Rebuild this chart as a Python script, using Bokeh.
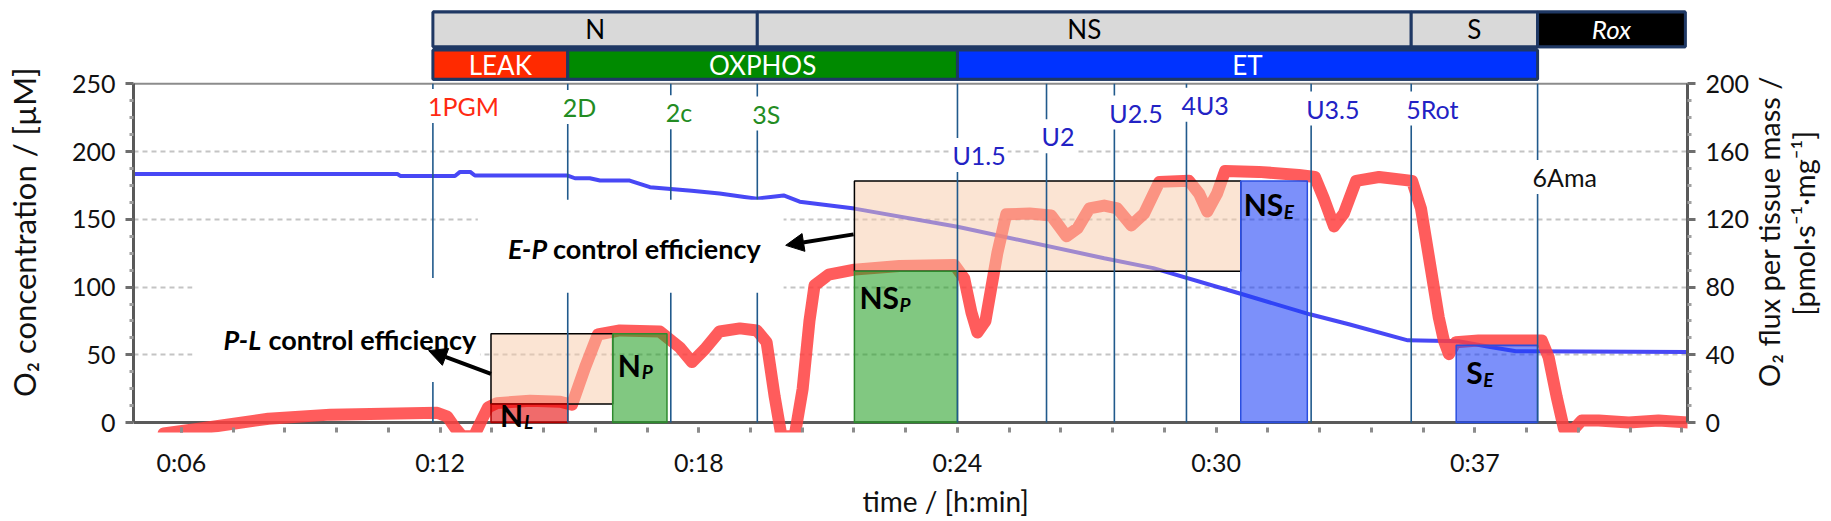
import math
import numpy as np
from bokeh.plotting import figure
from bokeh.layouts import row
from bokeh.models import (Range1d, LinearAxis, FixedTicker, Span, Label, Arrow,
                          NormalHead, ColumnDataSource, Title)
from bokeh.core.properties import value
from bokeh.embed import file_html
from bokeh.resources import INLINE

FONT = "Lato"

# ---------------- data ----------------
# time in minutes; red = O2 flux per tissue mass (right axis), blue = O2 concentration (left axis)
red_t = [5.68, 6.55, 8.15, 9.61, 11.19, 12.13, 12.37, 12.55, 12.72, 13.00,
         13.19, 13.33, 13.54, 14.32, 15.03, 15.31, 15.62, 15.92, 16.44, 17.38,
         17.85, 18.14, 18.44, 18.79, 19.27, 19.67, 19.90, 20.09, 20.25, 20.56,
         20.75, 20.91, 21.03, 21.36, 21.97, 23.03, 24.33, 24.56, 24.73, 24.87,
         25.06, 25.34, 25.55, 26.10, 26.61, 26.80, 26.97, 27.23, 27.51, 27.86,
         28.17, 28.50, 28.80, 29.16, 29.86, 30.10, 30.29, 30.52, 30.71, 31.51,
         32.45, 32.83, 33.04, 33.28, 33.51, 33.80, 34.34, 35.12, 35.33, 35.56,
         35.75, 35.87, 35.99, 36.15, 36.69, 37.64, 38.18, 38.34, 38.53, 38.70,
         38.93, 39.12, 39.52, 40.23, 40.93, 41.64]
red_flux = [-6.4, -3.5, 2.3, 4.7, 5.3, 5.8, 3.5, -3.0, -8.0, -8.0,
            2.0, 9.0, 11.5, 12.9, 12.3, 10.5, 32.7, 52.0, 54.4, 53.8,
            44.4, 35.7, 43.3, 53.8, 55.6, 54.4, 47.4, 15.2, -8.0, -8.0,
            20.0, 60.0, 81.0, 87.3, 90.3, 92.5, 93.0, 85.0, 65.0, 53.2,
            60.0, 100.0, 123.0, 123.4, 122.2, 115.8, 110.0, 114.6, 126.4, 128.1,
            126.4, 116.4, 123.4, 142.1, 142.7, 135.1, 124.6, 135.1, 148.5, 148.0,
            146.2, 145.0, 132.2, 115.8, 123.4, 142.7, 145.0, 142.7, 126.4, 91.2,
            62.0, 48.5, 40.4, 47.4, 48.5, 48.5, 48.5, 38.6, 15.2, -3.5,
            -4.0, 1.2, 1.2, 0.0, 1.2, 0.0]

blue_t = [4.97, 11.19, 11.26, 12.55, 12.67, 12.91, 13.02, 15.21, 15.38, 15.73,
          15.97, 16.67, 17.15, 18.13, 18.79, 19.67, 20.30, 20.68, 21.97, 24.40,
          27.86, 29.02, 31.14, 32.71, 33.63, 35.02, 36.22, 36.93, 37.57, 41.62]
blue_conc = [183.5, 183.5, 182.0, 182.0, 185.0, 185.0, 182.3, 182.3, 180.3, 180.3,
             178.6, 178.6, 173.7, 171.0, 169.0, 165.2, 167.6, 163.0, 157.9, 144.5,
             121.3, 114.0, 94.5, 79.9, 72.6, 60.7, 60.0, 56.0, 52.6, 52.0]

event_names = ["1PGM", "2D", "2c", "3S", "U1.5", "U2", "U2.5", "4U3", "U3.5", "5Rot", "6Ama"]
event_t = [12.03, 15.21, 17.64, 19.68, 24.40, 26.50, 28.10, 29.80, 32.74, 35.10, 38.08]
event_kind = ["red", "green", "green", "green", "blue", "blue", "blue", "blue", "blue", "blue", "black"]

coupling_names = ["N", "NS", "S", "Rox"]
coupling_from = ["1PGM", "3S", "5Rot", "6Ama"]
state_names = ["LEAK", "OXPHOS", "ET"]
state_from = ["1PGM", "2D", "U1.5", "6Ama"]

level_main = ["N", "N", "NS", "NS", "S"]
level_sub = ["L", "P", "P", "E", "E"]
level_kind = ["red", "green", "green", "blue", "blue"]
level_start = [13.40, 16.27, 21.97, 31.08, 36.16]
level_end = [15.21, 17.55, 24.40, 32.65, 38.08]
level_flux = [11.0, 52.5, 89.4, 142.6, 45.6]

eff_prefix = ["P-L", "E-P"]
eff_from = [0, 2]   # lower level index
eff_to = [1, 3]     # upper level index

tick_pos = [6.1, 12.2, 18.3, 24.4, 30.5, 36.6]
tick_labels = ["0:06", "0:12", "0:18", "0:24", "0:30", "0:37"]
conc_ticks = [0, 50, 100, 150, 200, 250]
flux_ticks = [0, 40, 80, 120, 160, 200]

x_title = "time / [h:min]"
left_title = "O₂ concentration / [µM]"
right_title = ["O₂ flux per tissue mass /", "[pmol·s⁻¹·mg⁻¹]"]

# ---------------- layout / style ----------------
H = 521
LEFT_W, RIGHT_W = 44, 79
MAIN_W = 1831 - LEFT_W - RIGHT_W
X0, X1 = 4.97, 41.615
Y0, Y1 = -7.31, 305.56
K = 0.8                      # flux units per concentration unit (200 <-> 250)
NAVY = "#1F3864"
HEAD_BG = (252.2, 304.1, 276.3)   # bottom (both rows), top, bottom (Rox row)
ROW1 = (277.4, 303.0)
ROW2 = (253.3, 274.9)
KIND_TEXT = {"red": "#FF2A12", "green": "#238C23", "blue": "#2222C4", "black": "#111111"}
KIND_FILL = {"red": "#E60000", "green": "#26A026", "blue": "#1E3FF7"}
KIND_LINE = {"red": "#B00000", "green": "#2E8B2E", "blue": "#2B4FE0"}
event_label_y = [233.6, 232.8, 229.0, 228.0, 197.4, 211.3, 228.8, 234.6, 231.7, 231.7, 181.3]
label_dx = [9, 5, 5, 3, 10]
label_dy = [11, 31, 26, 23, 27]
main_w = {"N": 24, "NS": 40, "S": 17}
eff_text_t = [7.09, 13.80]
eff_text_y = [61.6, 128.7]
eff_mask = [(6.36, 13.14, 30.0, 106.7), (13.09, 20.30, 95.8, 164.5)]
arrow_tail = [(13.40, 36.0), (21.95, 138.9)]
arrow_head = [(11.93, 53.1), (20.35, 130.8)]
TEXT_DARK = "#111111"
LEFT_TITLE_POS = (23, H - 275)
RIGHT_TITLE_X = [16, 51]
RIGHT_TITLE_Y = [H - 274, H - 264]

p = figure(width=MAIN_W, height=H, x_range=Range1d(X0, X1), y_range=Range1d(Y0, Y1),
           output_backend="svg", toolbar_location=None,
           min_border_left=89, min_border_right=63, min_border_top=8, min_border_bottom=85)
p.outline_line_color = None
p.background_fill_color = "white"
p.border_fill_color = "white"
p.extra_y_ranges = {"flux": Range1d(Y0 * K, Y1 * K)}

# grid
p.xgrid.visible = False
p.ygrid.ticker = FixedTicker(ticks=[50, 100, 150, 200])
p.ygrid.grid_line_color = "#C4C4C4"
p.ygrid.grid_line_dash = "5 4"
p.ygrid.grid_line_width = 2

# axes
xa = p.xaxis[0]
xa.ticker = FixedTicker(ticks=tick_pos,
                        minor_ticks=[round(6.1 + 1.22 * k, 3) for k in range(-1, 30)])
xa.major_label_overrides = dict(zip(tick_pos, tick_labels))
xa.axis_line_color = None
for a in ("major", "minor"):
    setattr(xa, a + "_tick_in", 5)
    setattr(xa, a + "_tick_out", 0)
    setattr(xa, a + "_tick_line_width", 3)
    setattr(xa, a + "_tick_line_color", "#8C8C8C")
xa.major_label_standoff = 14

yl = p.yaxis[0]
yl.ticker = FixedTicker(ticks=conc_ticks, minor_ticks=[v for v in np.arange(0, 251, 12.5) if v % 50])
yl.bounds = (0, 250)

yr = LinearAxis(y_range_name="flux",
                ticker=FixedTicker(ticks=flux_ticks, minor_ticks=[v for v in range(0, 201, 10) if v % 40]),
                bounds=(0, 200))
p.add_layout(yr, "right")

for ax in (yl, yr):
    ax.axis_line_width = 3
    ax.axis_line_color = "#595959"
    ax.major_tick_out = 8
    ax.major_tick_in = 0
    ax.major_tick_line_width = 3
    ax.major_tick_line_color = "#6E6E6E"
    ax.minor_tick_out = 4
    ax.minor_tick_in = 0
    ax.minor_tick_line_width = 3
    ax.minor_tick_line_color = "#A0A0A0"
    ax.major_label_standoff = 10
for ax in (xa, yl, yr):
    ax.major_label_text_font = FONT
    ax.major_label_text_font_size = "25px"
    ax.major_label_text_color = TEXT_DARK

# x-axis title (placed under the tick labels, shifted like in the reference)
p.add_layout(Title(text=x_title, align="left", offset=729, standoff=6, vertical_align="middle",
                   text_font=FONT, text_font_size="28px", text_font_style="normal",
                   text_color=TEXT_DARK), "below")

# zero line and top border of the plotting area
p.add_layout(Span(location=0, dimension="width", line_color="#5A5A5A", line_width=3, level="underlay"))
p.add_layout(Span(location=250, dimension="width", line_color="#8C8C8C", line_width=2, level="underlay"))

# traces
p.line(blue_t, blue_conc, line_color="#3434F4", line_width=4, line_alpha=0.9)
p.line(red_t, red_flux, y_range_name="flux", line_color="#FF4040", line_alpha=0.85,
       line_width=12, line_join="round", line_cap="round")

# control-efficiency boxes (from lower to upper level)
p.quad(left=[level_start[a] for a in eff_from], right=[level_start[b] for b in eff_to],
       bottom=[level_flux[a] for a in eff_from], top=[level_flux[b] for b in eff_to],
       y_range_name="flux", fill_color="#F8C9A8", fill_alpha=0.5,
       line_color="black", line_width=1.5)

# respiratory-state level boxes
p.quad(left=level_start, right=level_end, bottom=0, top=level_flux, y_range_name="flux",
       fill_color=[KIND_FILL[k] for k in level_kind], fill_alpha=0.58,
       line_color=[KIND_LINE[k] for k in level_kind], line_width=1.5)

# titration event lines
p.segment(x0=event_t, y0=0, x1=event_t, y1=250, line_color="#215A8C", line_width=1.6)

# white areas behind the efficiency texts
p.quad(left=[m[0] for m in eff_mask], right=[m[1] for m in eff_mask],
       bottom=[m[2] for m in eff_mask], top=[m[3] for m in eff_mask],
       fill_color="white", line_color=None)

# header: coupling-control and respiratory-state bars
ev = dict(zip(event_names, event_t))
top_edges = [ev[e] for e in coupling_from] + [X1 - 0.05]
st_edges = [ev[e] for e in state_from]
p.quad(left=[st_edges[0], st_edges[-1]], right=[st_edges[-1], top_edges[-1]],
       bottom=[HEAD_BG[0], HEAD_BG[2]], top=[HEAD_BG[1], HEAD_BG[1]],
       fill_color=NAVY, line_color=None)
p.quad(left=top_edges[:-1], right=top_edges[1:], bottom=ROW1[0], top=ROW1[1],
       fill_color=["#D9D9D9", "#D9D9D9", "#D9D9D9", "#000000"], line_color=NAVY, line_width=3)
p.quad(left=st_edges[:-1], right=st_edges[1:], bottom=ROW2[0], top=ROW2[1],
       fill_color=["#FF2A00", "#008A00", "#0033FF"], line_color=NAVY, line_width=3)
mid_top = [(a + b) / 2 for a, b in zip(top_edges[:-1], top_edges[1:])]
mid_st = [(a + b) / 2 for a, b in zip(st_edges[:-1], st_edges[1:])]
ymid1 = sum(ROW1) / 2
ymid2 = sum(ROW2) / 2
p.text(x=mid_top[:3], y=[ymid1] * 3, text=coupling_names[:3], text_font=value(FONT),
       text_font_size="26px", text_color="black", text_align="center", text_baseline="middle")
p.text(x=mid_top[3:], y=[ymid1], text=coupling_names[3:], text_font=value(FONT),
       text_font_size="26px", text_font_style="italic", text_color="white",
       text_align="center", text_baseline="middle")
p.text(x=mid_st, y=[ymid2] * 3, text=state_names, text_font=value(FONT),
       text_font_size="26px", text_color="white", text_align="center", text_baseline="middle")

# level labels with subscripts
src_main = ColumnDataSource(dict(x=level_start, y=level_flux, text=level_main,
                                 xo=label_dx, yo=label_dy))
src_sub = ColumnDataSource(dict(x=level_start, y=level_flux, text=level_sub,
                                xo=[d + main_w[m] for d, m in zip(label_dx, level_main)],
                                yo=[d + 7 for d in label_dy]))
p.text(x="x", y="y", text="text", x_offset="xo", y_offset="yo", source=src_main,
       y_range_name="flux", text_font=value(FONT), text_font_size="30px",
       text_font_style="bold", text_color="black", text_align="left", text_baseline="middle")
p.text(x="x", y="y", text="text", x_offset="xo", y_offset="yo", source=src_sub,
       y_range_name="flux", text_font=value(FONT), text_font_size="19px",
       text_font_style="bold italic", text_color="black", text_align="left", text_baseline="middle")

# control-efficiency texts
p.text(x=eff_text_t, y=eff_text_y, text=eff_prefix, text_font=value(FONT), text_font_size="27px",
       text_font_style="bold italic", text_color="black", text_align="left", text_baseline="middle")
p.text(x=eff_text_t, y=eff_text_y, text=["control efficiency"] * 2, x_offset=45,
       text_font=value(FONT), text_font_size="27px", text_font_style="bold",
       text_color="black", text_align="left", text_baseline="middle")

# event labels
for name, t, ly, kind in zip(event_names, event_t, event_label_y, event_kind):
    p.add_layout(Label(x=t, y=ly, text=name, x_offset=-7, text_align="left",
                       text_baseline="middle", text_font=FONT, text_font_size="25px",
                       text_color=KIND_TEXT[kind], background_fill_color="white", padding=2))

# arrows
for (tx, ty), (hx, hy) in zip(arrow_tail, arrow_head):
    p.add_layout(Arrow(end=NormalHead(size=18, fill_color="black", line_color="black"),
                       x_start=tx, y_start=ty, x_end=hx, y_end=hy,
                       line_color="black", line_width=4))


# ---------------- side strips carrying the vertical axis titles ----------------
def side_strip(width):
    f = figure(width=width, height=H, x_range=Range1d(0, width), y_range=Range1d(0, H),
               output_backend="svg", toolbar_location=None, x_axis_type=None, y_axis_type=None,
               min_border=0)
    f.outline_line_color = None
    f.grid.visible = False
    f.background_fill_color = "white"
    f.border_fill_color = "white"
    return f


left_strip = side_strip(LEFT_W)
left_strip.text(x=[LEFT_TITLE_POS[0]], y=[LEFT_TITLE_POS[1]], text=[left_title], angle=math.pi / 2,
                text_font=value(FONT), text_font_size="31px", text_color=TEXT_DARK,
                text_align="center", text_baseline="middle")

right_strip = side_strip(RIGHT_W)
right_strip.text(x=RIGHT_TITLE_X, y=RIGHT_TITLE_Y, text=right_title, angle=math.pi / 2,
                 text_font=value(FONT), text_font_size="29px", text_color=TEXT_DARK,
                 text_align="center", text_baseline="middle")

layout = row(left_strip, p, right_strip)
open("out.html", "w").write(file_html(layout, INLINE))
